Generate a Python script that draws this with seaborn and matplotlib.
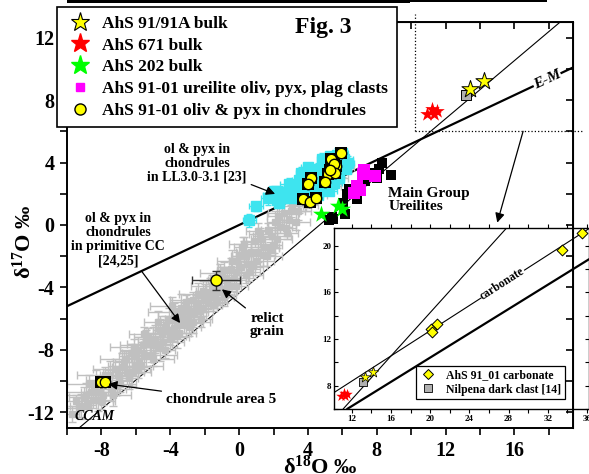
import matplotlib
matplotlib.use('Agg')
import matplotlib.pyplot as plt
import seaborn as sns
from matplotlib.lines import Line2D
from matplotlib.patches import Rectangle
from matplotlib.ticker import MultipleLocator, NullFormatter

sns.set_style('ticks', {'axes.edgecolor': 'k', 'xtick.color': 'k', 'ytick.color': 'k',
                        'text.color': 'k', 'axes.labelcolor': 'k'})
plt.rcParams['font.family'] = ['Liberation Serif', 'DejaVu Serif']
plt.rcParams['font.weight'] = 'bold'
plt.rcParams['axes.labelweight'] = 'bold'
plt.rcParams['mathtext.fontset'] = 'custom'
plt.rcParams['mathtext.rm'] = 'Liberation Serif:bold'
plt.rcParams['mathtext.it'] = 'Liberation Serif:bold:italic'
plt.rcParams['mathtext.bf'] = 'Liberation Serif:bold'
plt.rcParams['axes.unicode_minus'] = False

# --- datos ---
# chondrules in primitive CC [24,25] (gris)
gray_x = [-9.7, -9.5, -9.2, -9.0, -8.8, -8.6, -8.5, -8.3, -8.1, -7.9,
          -7.8, -7.6, -7.4, -7.2, -7.0, -6.9, -6.7, -6.5, -6.3, -6.2,
          -6.0, -5.8, -5.6, -5.5, -5.3, -5.1, -4.9, -4.8, -4.6, -4.4,
          -4.2, -4.1, -3.9, -3.7, -3.5, -3.4, -3.2, -3.0, -2.8, -2.7,
          -2.5, -2.3, -2.1, -2.0, -1.8, -1.6, -1.4, -1.2, -1.0, -0.9,
          -0.7, -0.5, -0.3, -0.1, 0.1, 0.3, 0.5, 0.7, 0.9, 1.1,
          1.3, 1.5, 1.7, 1.9, 2.1, 2.4, 2.6, 2.9, 3.1, 3.4,
          3.7, 3.9, 4.2, 4.5, 4.8, 5.1, 5.4, 5.7, 6.0, 6.3,
          -8.7, -8.0, -7.3, -6.8, -6.1, -5.9, -5.4, -5.0, -4.7, -4.3,
          -3.8, -3.6, -3.1, -2.9, -2.4, -2.2, -1.7, -1.5, -1.1, -0.8,
          -0.4, -0.2, 0.2, 0.4, 0.8, 1.2, 1.6, 2.0, 2.3, 2.8,
          3.3, 3.6, 4.4, 5.0,
          -9.3, -8.9, -8.4, -8.2, -7.7, -7.5, -7.1, -6.6, -6.4, -5.9,
          -5.7, -5.2, -5.0, -4.5, -4.3, -4.0, -3.8, -3.3, -3.0, -2.6,
          -2.4, -1.9, -1.5, -1.3, -0.8, -0.6, -0.2, 0.0, 0.4, 0.6,
          1.0, 1.4, 1.8, 2.2, 2.7, 3.0, 3.5, 4.0, 4.6, 5.2,
          -6.0, -5.5, -4.6, -3.9, -3.5, -2.7, -2.1, -0.9, 0.3, 1.1]
gray_y = [-12.1, -11.3, -11.6, -11.0, -11.5, -10.7, -11.2, -10.2, -10.7, -10.9,
          -9.6, -10.1, -10.5, -9.2, -9.7, -10.2, -8.8, -9.4, -8.2, -9.4,
          -8.4, -8.8, -7.7, -8.3, -7.2, -8.3, -7.3, -7.7, -6.7, -7.5,
          -6.8, -6.1, -6.9, -6.0, -6.3, -5.3, -6.3, -5.4, -5.7, -4.8,
          -5.2, -5.5, -4.2, -4.7, -4.9, -3.9, -4.4, -3.9, -4.2, -2.9,
          -3.5, -2.8, -3.4, -2.3, -2.7, -1.8, -2.5, -1.7, -1.0, -1.7,
          -0.9, -1.4, -0.3, -0.7, 0.2, -0.1, 0.8, 0.3, 1.2, 0.9,
          1.7, 1.3, 2.1, 1.9, 2.6, 2.5, 3.2, 3.0, 3.6, 3.7,
          -10.2, -11.3, -10.9, -9.1, -7.8, -9.2, -7.5, -8.6, -6.2, -8.0,
          -5.6, -7.1, -4.9, -6.5, -4.4, -6.0, -4.3, -5.1, -3.1, -4.5,
          -2.3, -3.9, -1.4, -3.2, -2.6, -0.6, -2.0, -1.3, 0.6, -0.5,
          0.2, 2.0, 2.6, 3.1,
          -11.7, -10.9, -10.6, -11.2, -9.9, -9.6, -10.3, -8.6, -9.8, -8.0,
          -9.0, -7.6, -7.4, -6.9, -6.5, -7.2, -6.6, -5.8, -6.0, -5.6,
          -5.0, -4.4, -4.6, -4.9, -3.4, -3.9, -3.0, -2.0, -2.0, -3.0,
          -2.3, -1.9, -1.5, -0.9, -0.2, 0.9, 1.4, 1.8, 2.5, 3.0,
          -9.0, -7.0, -7.9, -5.2, -6.9, -6.2, -5.3, -4.6, -1.2, -0.4]
gray_xerr = [0.4, 1.2, 0.6, 0.9, 0.5, 1.5, 0.7, 0.4, 1.1, 0.6,
             1.6, 0.5, 0.8, 1.3, 0.4, 0.9, 0.6, 1.4, 0.5, 0.7,
             1.0, 0.4, 1.3, 0.6, 0.8, 1.5, 0.5, 0.9, 0.4, 1.2,
             0.7, 0.5, 1.4, 0.6, 0.9, 0.4, 1.1, 0.7, 0.5, 1.3,
             0.6, 0.8, 0.4, 1.0, 0.6, 1.2, 0.5, 0.7, 0.9, 0.4,
             1.1, 0.6, 0.8, 0.5, 1.3, 0.4, 0.7, 0.9, 0.5, 1.0,
             0.6, 0.8, 0.4, 1.1, 0.5, 0.7, 0.9, 0.4, 0.6, 0.8,
             0.5, 0.7, 0.4, 0.6, 0.5, 0.8, 0.4, 0.6, 0.5, 0.4,
             1.3, 0.8, 1.0, 0.6, 1.4, 0.7, 0.5, 1.2, 0.8, 0.6,
             1.5, 0.5, 0.9, 0.7, 1.1, 0.6, 0.8, 0.5, 1.2, 0.6,
             0.9, 0.7, 0.5, 1.0, 0.8, 0.6, 0.9, 0.5, 0.7, 0.6,
             0.8, 0.5, 0.6, 0.4,
             0.7, 1.4, 0.5, 0.9, 1.2, 0.6, 0.8, 1.5, 0.5, 1.0,
             0.7, 1.3, 0.6, 0.9, 0.5, 1.1, 0.7, 1.4, 0.6, 0.8,
             1.0, 0.5, 1.2, 0.6, 0.9, 0.7, 1.1, 0.5, 0.8, 0.6,
             1.0, 0.7, 0.5, 0.9, 0.6, 0.8, 0.5, 0.7, 0.6, 0.5,
             1.6, 0.9, 0.6, 1.3, 0.7, 1.0, 0.8, 0.6, 0.9, 0.7]
gray_yerr = [0.5, 0.4, 0.8, 0.6, 0.3, 0.7, 0.5, 0.9, 0.4, 0.6,
             0.5, 0.8, 0.4, 0.6, 1.0, 0.5, 0.7, 0.4, 0.6, 0.9,
             0.5, 0.7, 0.4, 0.8, 0.6, 0.5, 0.9, 0.4, 0.7, 0.5,
             0.6, 0.8, 0.4, 0.7, 0.5, 0.9, 0.6, 0.4, 0.8, 0.5,
             0.7, 0.4, 0.6, 0.9, 0.5, 0.7, 0.4, 0.6, 0.8, 0.5,
             0.4, 0.7, 0.5, 0.6, 0.4, 0.8, 0.5, 0.6, 0.4, 0.7,
             0.5, 0.6, 0.4, 0.5, 0.7, 0.4, 0.6, 0.5, 0.4, 0.6,
             0.5, 0.4, 0.6, 0.5, 0.4, 0.5, 0.6, 0.4, 0.5, 0.4,
             0.6, 0.5, 0.7, 0.9, 0.5, 0.6, 0.8, 0.4, 0.7, 0.5,
             0.6, 0.8, 0.4, 0.6, 0.7, 0.5, 0.9, 0.4, 0.6, 0.5,
             0.7, 0.4, 0.6, 0.5, 0.8, 0.4, 0.6, 0.5, 0.7, 0.4,
             0.5, 0.6, 0.5, 0.4,
             0.6, 0.8, 0.5, 0.7, 0.4, 0.9, 0.6, 0.5, 0.7, 0.8,
             0.5, 0.6, 0.9, 0.4, 0.7, 0.5, 0.8, 0.6, 0.4, 0.7,
             0.5, 0.8, 0.6, 0.4, 0.7, 0.5, 0.6, 0.8, 0.4, 0.6,
             0.5, 0.7, 0.4, 0.6, 0.5, 0.4, 0.6, 0.5, 0.4, 0.5,
             0.7, 0.5, 0.8, 0.6, 0.4, 0.7, 0.5, 0.6, 0.4, 0.5]

# chondrules in LL3.0-3.1 [23] (cian)
cyan_x = [0.6, 1.0, 1.9, 2.2, 2.4, 2.6, 3.0, 3.4, 2.9, 3.2, 3.8, 3.9, 4.2, 4.3,
          4.5, 4.6, 4.9, 5.0, 5.3, 5.3, 5.6, 5.8, 5.9, 6.1, 4.8, 3.5, 5.5, 6.2,
          2.0, 2.7, 3.3, 3.6, 4.0, 4.4, 4.7, 5.1, 5.4, 5.7, 6.0, 4.6, 4.0, 3.6,
          5.2, 6.3, 2.3, 1.7]
cyan_y = [0.3, 1.2, 1.9, 1.6, 2.1, 1.7, 1.8, 1.7, 2.6, 2.3, 2.3, 3.2, 2.6, 3.4,
          3.0, 1.9, 2.4, 3.8, 3.5, 4.4, 4.0, 3.0, 3.9, 4.2, 4.2, 2.9, 2.7, 3.6,
          2.2, 2.0, 2.0, 2.5, 2.0, 2.2, 2.8, 3.2, 4.0, 4.5, 4.6, 3.6, 3.7, 3.3,
          2.2, 4.0, 1.4, 1.7]
cyan_xerr = [0.4, 0.4, 0.5, 0.3, 0.4, 0.5, 0.3, 0.4, 0.5, 0.3, 0.4, 0.5, 0.3, 0.4,
             0.5, 0.3, 0.4, 0.5, 0.3, 0.4, 0.5, 0.3, 0.4, 0.5, 0.3, 0.4, 0.5, 0.3,
             0.4, 0.3, 0.5, 0.4, 0.3, 0.5, 0.4, 0.3, 0.5, 0.4, 0.3, 0.5, 0.4, 0.3,
             0.5, 0.4, 0.3, 0.4]
cyan_yerr = [0.4, 0.3, 0.4, 0.3, 0.4, 0.3, 0.4, 0.3, 0.4, 0.3, 0.4, 0.3, 0.4, 0.3,
             0.4, 0.3, 0.4, 0.3, 0.4, 0.3, 0.4, 0.3, 0.4, 0.3, 0.4, 0.3, 0.4, 0.3,
             0.3, 0.4, 0.3, 0.4, 0.3, 0.4, 0.3, 0.4, 0.3, 0.4, 0.3, 0.4, 0.3, 0.4,
             0.3, 0.4, 0.3, 0.4]

# AhS 91-01 oliv & pyx in chondrules
chon_x = [5.93, 5.35, 5.64, 5.42, 5.54, 5.19, 5.58, 5.29, 5.0, 4.17, 4.03, 3.7, 4.13, 4.46,
          -8.05, -7.8]
chon_y = [4.6, 4.25, 3.78, 3.67, 3.89, 3.29, 3.35, 3.5, 2.78, 3.03, 2.65, 1.69, 1.49, 1.75,
          -10.06, -10.06]
relict_x, relict_y = [-1.34], [-3.55]
relict_xerr, relict_yerr = [1.4], [0.6]

# AhS 91-01 ureilite clasts
mag_x = [7.23, 7.2, 7.9, 6.84, 6.69, 7.03]
mag_y = [3.5, 3.25, 3.14, 2.5, 2.07, 2.22]
# Main Group Ureilites
mgu_x = [8.33, 8.82, 8.1, 7.62, 8.0, 6.36, 6.26, 6.84, 6.06, 6.16, 5.39, 5.25, 7.3, 5.48]
mgu_y = [3.95, 3.18, 3.57, 3.36, 3.03, 2.29, 1.97, 1.65, 1.43, 0.69, 0.51, 0.3, 2.8, 0.37]

# bulk
ahs91_x, ahs91_y = [13.4, 14.2], [8.7, 9.2]
ahs671_x, ahs671_y = [10.9, 11.2, 11.5, 11.3], [7.1, 7.4, 7.3, 7.1]
ahs202_x, ahs202_y = [4.75, 5.75, 5.95], [0.7, 1.2, 1.0]
nilp_x, nilp_y = [13.2], [8.3]
carb_x = [20.13, 20.23, 20.71, 33.46, 35.47]
carb_y = [12.83, 12.58, 13.29, 19.63, 21.1]

# lineas de referencia
ccam_slope, ccam_icpt = 0.93, -4.35
em_slope, em_icpt = 0.52, 0.0
carb_slope, carb_icpt = 0.54, 1.9

W, H = 589, 474
fig = plt.figure(figsize=(W / 100, H / 100), dpi=100)
ax = fig.add_axes([67 / W, 46 / H, 506 / W, 406 / H])
ax.set_xlim(-10, 19.4)
ax.set_ylim(-13, 13)

ax.axline((0, ccam_icpt), slope=ccam_slope, color='k', lw=0.8, zorder=1)
ax.axline((0, em_icpt), slope=em_slope, color='k', lw=1.6, zorder=1.5)

ax.errorbar(gray_x, gray_y, xerr=gray_xerr, yerr=gray_yerr, fmt='s', ms=5,
            color='#c0c0c0', ecolor='#c0c0c0', elinewidth=1.0, capsize=3, zorder=2)
ax.errorbar(cyan_x, cyan_y, xerr=cyan_xerr, yerr=cyan_yerr, fmt='s', ms=7,
            color='#3ee4ef', ecolor='#3ee4ef', elinewidth=1.0, capsize=2.5, zorder=3)

sns.scatterplot(x=mgu_x, y=mgu_y, marker='s', s=6.5 ** 2, color='k', linewidth=0,
                ax=ax, zorder=4, legend=False)
sns.scatterplot(x=mag_x, y=mag_y, marker='s', s=8.5 ** 2, color='#ff00ff', linewidth=0,
                ax=ax, zorder=5, legend=False)
sns.scatterplot(x=chon_x, y=chon_y, marker='s', s=8.5 ** 2, color='k', linewidth=0,
                ax=ax, zorder=6, legend=False)
sns.scatterplot(x=chon_x, y=chon_y, marker='o', s=7.5 ** 2, color='yellow', edgecolor='k',
                linewidth=1.0, ax=ax, zorder=7, legend=False)
sns.scatterplot(x=ahs202_x, y=ahs202_y, marker='*', s=13 ** 2, color='#00ff00', linewidth=0,
                ax=ax, zorder=7.5, legend=False)
ax.errorbar(relict_x, relict_y, xerr=relict_xerr, yerr=relict_yerr, fmt='none',
            ecolor='#333333', elinewidth=1.0, capsize=3, zorder=6)
sns.scatterplot(x=relict_x, y=relict_y, marker='o', s=8 ** 2, color='yellow', edgecolor='k',
                linewidth=1.0, ax=ax, zorder=7, legend=False)
sns.scatterplot(x=ahs671_x, y=ahs671_y, marker='*', s=11 ** 2, color='red', linewidth=0,
                ax=ax, zorder=6, legend=False)
sns.scatterplot(x=nilp_x, y=nilp_y, marker='s', s=7 ** 2, color='#b0b0b0', edgecolor='k',
                linewidth=0.7, ax=ax, zorder=6, legend=False)
sns.scatterplot(x=ahs91_x, y=ahs91_y, marker='*', s=13 ** 2, color='yellow', edgecolor='k',
                linewidth=0.7, ax=ax, zorder=7, legend=False)

# ejes
ax.xaxis.set_major_locator(MultipleLocator(4))
ax.xaxis.set_minor_locator(MultipleLocator(2))
ax.yaxis.set_major_locator(MultipleLocator(4))
ax.yaxis.set_minor_locator(MultipleLocator(2))
ax.tick_params(which='both', direction='out', length=5, width=1.2, labelsize=14.5, pad=4)
for sp in ax.spines.values():
    sp.set_linewidth(1.4)
for side in ['top', 'right']:
    sec = ax.secondary_xaxis('top') if side == 'top' else ax.secondary_yaxis('right')
    axis = sec.xaxis if side == 'top' else sec.yaxis
    axis.set_major_locator(MultipleLocator(2))
    axis.set_major_formatter(NullFormatter())
    sec.tick_params(which='both', direction='in', length=5, width=1.2)

ax.set_xlabel('δ$^{18}$O ‰', fontsize=16)
ax.set_ylabel('δ$^{17}$O ‰', fontsize=16)
ax.xaxis.set_label_coords(0.5, -0.068)
ax.yaxis.set_label_coords(-0.062, 0.46)

# textos
ax.text(17.9, 9.3, 'E-M', rotation=25, style='italic', fontsize=11, ha='center', va='center',
        bbox=dict(fc='white', ec='none', pad=0.3), zorder=3)
ax.text(-8.4, -12.24, 'CCAM', style='italic', fontsize=10, ha='center', va='center', zorder=8)
ax.text(8.66, 1.6, 'Main Group\nUreilites', fontsize=11, ha='left', va='center', linespacing=1.05)
arrow = dict(arrowstyle='-|>', color='k', lw=0.9, mutation_scale=13, shrinkA=1, shrinkB=0)
ax.annotate('ol & pyx in\nchondrules\nin LL3.0-3.1 [23]', xy=(2.09, 1.99), xytext=(-2.45, 3.95),
            fontsize=10, ha='center', va='center', linespacing=1.1, arrowprops=arrow, zorder=8)
ax.annotate('ol & pyx in\nchondrules\nin primitive CC\n[24,25]', xy=(-3.43, -6.28),
            xytext=(-7.03, -0.93), fontsize=10, ha='center', va='center', linespacing=1.1,
            arrowprops=arrow, zorder=8)
ax.annotate('relict\ngrain', xy=(-1.0, -4.12), xytext=(1.63, -6.41), fontsize=11,
            ha='center', va='center', linespacing=1.05, arrowprops=arrow, zorder=8)
ax.annotate('chondrule area 5', xy=(-7.6, -10.19), xytext=(-4.24, -11.15), fontsize=11,
            ha='left', va='center', arrowprops=arrow, zorder=8)

# recuadro punteado y flecha al inset
ax.plot([10.2, 10.2], [6.0, 13.5], ls=':', color='k', lw=0.9, clip_on=False)
ax.plot([10.2, 20.0], [6.0, 6.0], ls=':', color='k', lw=0.9, clip_on=False)
ax.annotate('', xy=(15.0, 0.15), xytext=(16.5, 6.0), annotation_clip=False,
            arrowprops=dict(arrowstyle='-|>', color='k', lw=0.9, mutation_scale=14,
                            shrinkA=0, shrinkB=0))

# leyenda principal
handles = [
    Line2D([], [], ls='none', marker='*', ms=14, mfc='yellow', mec='k', mew=0.8),
    Line2D([], [], ls='none', marker='*', ms=14, mfc='red', mec='red'),
    Line2D([], [], ls='none', marker='*', ms=14, mfc='#00ff00', mec='#00ff00'),
    Line2D([], [], ls='none', marker='s', ms=6, mfc='#ff00ff', mec='#ff00ff'),
    Line2D([], [], ls='none', marker='o', ms=8, mfc='yellow', mec='k', mew=1.0),
]
labels = ['AhS 91/91A bulk', 'AhS 671 bulk', 'AhS 202 bulk',
          'AhS 91-01 ureilite oliv, pyx, plag clasts', 'AhS 91-01 oliv & pyx in chondrules']
leg = ax.legend(handles, labels, loc='upper left', bbox_to_anchor=(57 / W, 1 - 7 / H),
                bbox_transform=fig.transFigure, prop={'size': 12.5, 'weight': 'bold'},
                frameon=True, fancybox=False, framealpha=1, edgecolor='k', borderpad=0.5,
                labelspacing=0.32, handlelength=1.6, handletextpad=0.5, borderaxespad=0)
leg.get_frame().set_linewidth(1.2)
fig.text(323 / W, 1 - 27 / H, 'Fig. 3', fontsize=17, ha='center', va='center')

# inset
ax_in = fig.add_axes([334 / W, 65 / H, 255 / W, 181 / H], facecolor='none')
ax_in.set_xlim(10.2, 36.2)
ax_in.set_ylim(6.0, 21.5)
ax_in.axline((0, ccam_icpt), slope=ccam_slope, color='k', lw=0.8, zorder=1)
ax_in.axline((0, em_icpt), slope=em_slope, color='k', lw=1.6, zorder=1)
ax_in.axline((0, carb_icpt), slope=carb_slope, color='k', lw=0.8, zorder=1)
sns.scatterplot(x=ahs671_x, y=ahs671_y, marker='*', s=8 ** 2, color='red', linewidth=0,
                ax=ax_in, zorder=5, legend=False)
sns.scatterplot(x=nilp_x, y=nilp_y, marker='s', s=5.5 ** 2, color='#b0b0b0', edgecolor='k',
                linewidth=0.6, ax=ax_in, zorder=5, legend=False)
sns.scatterplot(x=ahs91_x, y=ahs91_y, marker='*', s=8 ** 2, color='yellow', edgecolor='k',
                linewidth=0.5, ax=ax_in, zorder=6, legend=False)
sns.scatterplot(x=carb_x, y=carb_y, marker='D', s=5.5 ** 2, color='yellow', edgecolor='k',
                linewidth=0.7, ax=ax_in, zorder=6, legend=False)
ax_in.text(27.4, 16.7, 'carbonate', rotation=32.7, fontsize=8.5, ha='center', va='center',
           bbox=dict(fc='white', ec='none', pad=0.2), zorder=3)
ax_in.xaxis.set_major_locator(MultipleLocator(4))
ax_in.xaxis.set_minor_locator(MultipleLocator(2))
ax_in.yaxis.set_major_locator(MultipleLocator(4))
ax_in.yaxis.set_minor_locator(MultipleLocator(2))
ax_in.tick_params(axis='x', which='both', direction='out', length=3, width=0.8,
                  labelsize=6.5, pad=1.5)
ax_in.tick_params(axis='y', which='both', direction='in', length=3, width=0.8,
                  labelsize=6.5, pad=2)
ax_in.tick_params(which='both', top=True, right=True)
for sp in ax_in.spines.values():
    sp.set_linewidth(1.0)
in_handles = [
    Line2D([], [], ls='none', marker='D', ms=5.5, mfc='yellow', mec='k', mew=0.7),
    Line2D([], [], ls='none', marker='s', ms=5.5, mfc='#b0b0b0', mec='k', mew=0.6),
]
leg_in = ax_in.legend(in_handles, ['AhS 91_01 carbonate', 'Nilpena dark clast [14]'],
                      loc='lower right', bbox_to_anchor=(0.906, 0.055),
                      prop={'size': 8.5, 'weight': 'bold'}, frameon=True, fancybox=False,
                      framealpha=1, edgecolor='k', borderpad=0.3, labelspacing=0.2,
                      handlelength=1.5, handletextpad=0.8, borderaxespad=0)
leg_in.get_frame().set_linewidth(0.9)

# barra negra cortada en el borde superior
fig.add_artist(Rectangle((67 / W, 1 - 3 / H), 343 / W, 3 / H, transform=fig.transFigure,
                         color='k', lw=0))
fig.add_artist(Rectangle((410 / W, 1 - 2 / H), 137 / W, 2 / H, transform=fig.transFigure,
                         color='k', lw=0))

fig.savefig('out.png', dpi=100)
